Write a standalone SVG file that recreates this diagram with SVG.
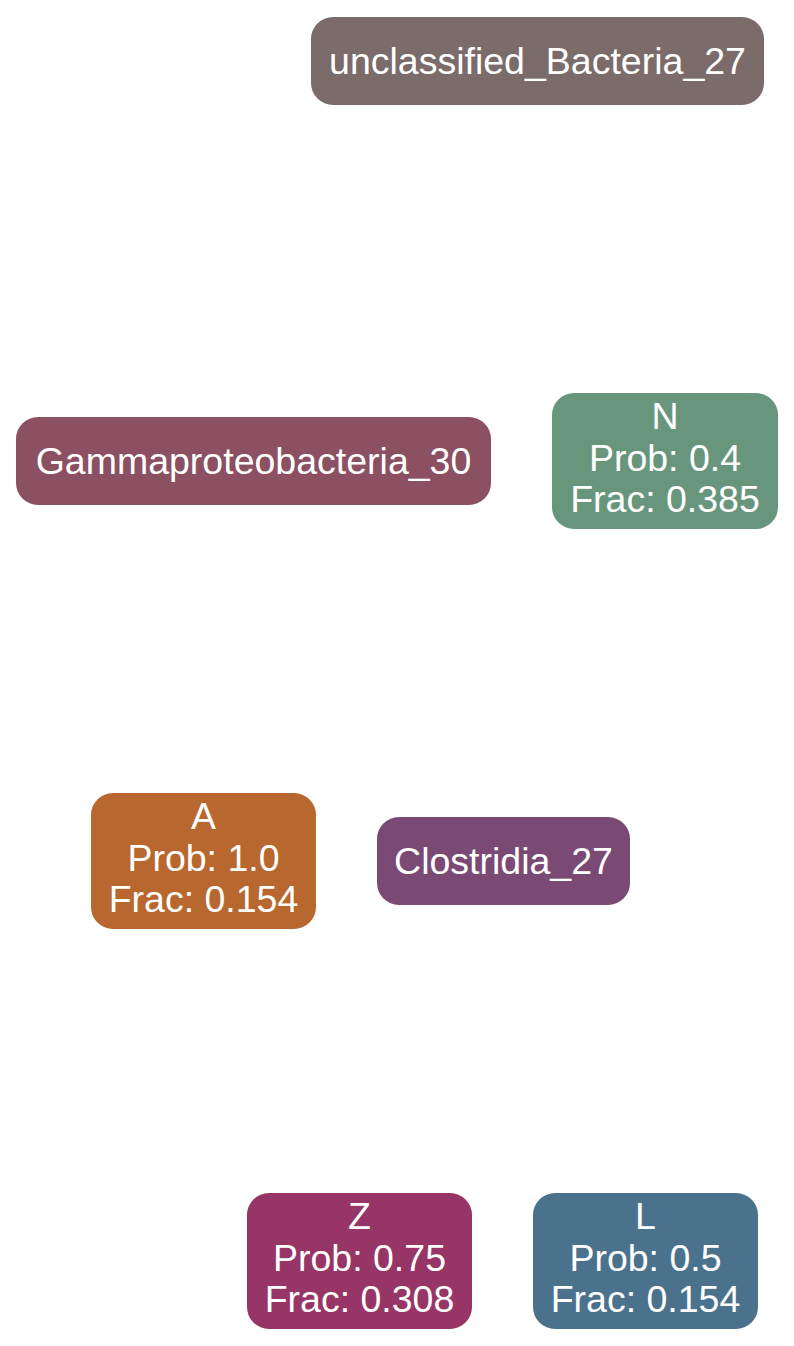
<svg xmlns="http://www.w3.org/2000/svg" width="794" height="1346" viewBox="0 0 794 1346">
<style>
.box{stroke:none}
.t{font-family:"Liberation Sans",Arial,Helvetica,sans-serif;font-size:37.5px;fill:#ffffff;text-anchor:middle}
</style>
<rect width="794" height="1346" fill="#ffffff"/>
<g id="connectors"></g>
<g id="unclassified_Bacteria_27">
<rect class="box" x="311" y="17" width="453" height="88" rx="22" fill="#7b6b6b"/>
<text class="t" x="537.5" y="74">unclassified_Bacteria_27</text>
</g>
<g id="Gammaproteobacteria_30">
<rect class="box" x="16" y="417" width="475" height="88" rx="22" fill="#8b5062"/>
<text class="t" x="253.5" y="474">Gammaproteobacteria_30</text>
</g>
<g id="N">
<rect class="box" x="552" y="393" width="226" height="136" rx="22" fill="#68967c"/>
<text class="t" x="665" y="429">N</text>
<text class="t" x="665" y="471">Prob: 0.4</text>
<text class="t" x="665" y="512">Frac: 0.385</text>
</g>
<g id="A">
<rect class="box" x="91" y="793" width="225" height="136" rx="22" fill="#b8672e"/>
<text class="t" x="203.5" y="829">A</text>
<text class="t" x="203.5" y="871">Prob: 1.0</text>
<text class="t" x="203.5" y="912">Frac: 0.154</text>
</g>
<g id="Clostridia_27">
<rect class="box" x="377" y="817" width="253" height="88" rx="22" fill="#7a4a75"/>
<text class="t" x="503.5" y="874">Clostridia_27</text>
</g>
<g id="Z">
<rect class="box" x="247" y="1193" width="225" height="136" rx="22" fill="#963566"/>
<text class="t" x="359.5" y="1229">Z</text>
<text class="t" x="359.5" y="1271">Prob: 0.75</text>
<text class="t" x="359.5" y="1312">Frac: 0.308</text>
</g>
<g id="L">
<rect class="box" x="533" y="1193" width="225" height="136" rx="22" fill="#4b728d"/>
<text class="t" x="645.5" y="1229">L</text>
<text class="t" x="645.5" y="1271">Prob: 0.5</text>
<text class="t" x="645.5" y="1312">Frac: 0.154</text>
</g>
</svg>
